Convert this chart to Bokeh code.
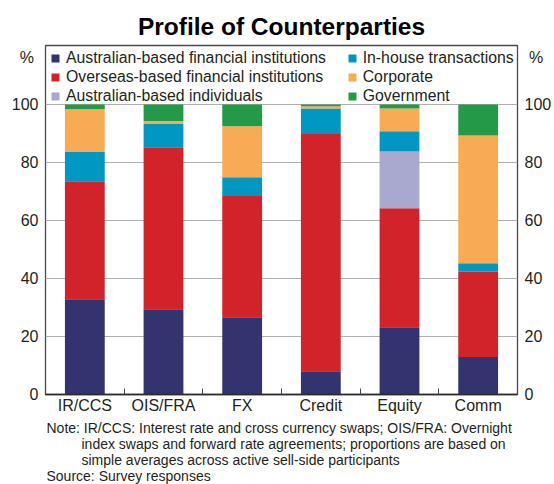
from bokeh.plotting import figure
from bokeh.models import (ColumnDataSource, FixedTicker, LinearAxis, Legend, LegendItem,
                          Title, Range1d)
from bokeh.embed import file_html
from bokeh.resources import INLINE

categories = ["IR/CCS", "OIS/FRA", "FX", "Credit", "Equity", "Comm"]
aus_fi = [32.8, 29.4, 26.6, 8.0, 23.2, 12.9]
overseas_fi = [40.7, 55.8, 41.8, 81.8, 41.0, 29.4]
aus_indiv = [0.0, 0.0, 0.0, 0.0, 19.6, 0.0]
in_house = [10.3, 8.0, 6.5, 8.8, 6.9, 2.9]
corporate = [14.5, 1.1, 17.6, 0.8, 7.9, 44.1]
government = [1.7, 5.7, 7.5, 0.6, 1.4, 10.7]

series_keys = ["aus_fi", "overseas_fi", "aus_indiv", "in_house", "corporate", "government"]
series_labels = ["Australian-based financial institutions", "Overseas-based financial institutions",
                 "Australian-based individuals", "In-house transactions", "Corporate", "Government"]
colors = ["#32336f", "#d2232a", "#a9a8cf", "#0098c3", "#f8aa55", "#249a48"]
y_ticks = [0, 20, 40, 60, 80, 100]
unit_label = "%"
unit_pos = 116
title_text = "Profile of Counterparties"
note_lines = [
    "Note: IR/CCS: Interest rate and cross currency swaps; OIS/FRA: Overnight",
    "index swaps and forward rate agreements; proportions are based on",
    "simple averages across active sell-side participants",
]
source_line = "Source: Survey responses"

FONT = "Liberation Sans"
TXT = "#231f20"
INDENT = "\u00a0" * 9

xs = [i + 0.5 for i in range(len(categories))]
source = ColumnDataSource(dict(x=xs, aus_fi=aus_fi, overseas_fi=overseas_fi, aus_indiv=aus_indiv,
                               in_house=in_house, corporate=corporate, government=government))

p = figure(width=554, height=484, output_backend="svg", toolbar_location=None,
           x_range=Range1d(0, len(categories)), y_range=Range1d(0, 120.3),
           min_border_left=45, min_border_right=35, min_border_top=45, min_border_bottom=89,
           x_axis_location=None, y_axis_location=None)
p.outline_line_color = "#4a4a4a"
p.outline_line_width = 1.3
p.background_fill_color = "white"
p.border_fill_color = "white"

renderers = p.vbar_stack(series_keys, x="x", width=0.506, color=colors, line_color=None, source=source)

# title
p.add_layout(Title(text=title_text, align="center", text_font=FONT, text_font_size="24.5px",
                   text_font_style="bold", text_color="#000000", standoff=11), "above")

# x axis
xaxis = LinearAxis(ticker=FixedTicker(ticks=xs, minor_ticks=[float(i) for i in range(1, len(categories))]),
                   major_label_overrides={x: c for x, c in zip(xs, categories)})
xaxis.axis_line_color = "#2a2a2a"
xaxis.axis_line_width = 1.3
xaxis.major_tick_in = 0
xaxis.major_tick_out = 0
xaxis.minor_tick_in = 6
xaxis.minor_tick_out = 0
xaxis.minor_tick_line_color = "#444444"
xaxis.major_label_standoff = 2
xaxis.major_label_text_font = FONT
xaxis.major_label_text_font_size = "16px"
xaxis.major_label_text_color = TXT
p.add_layout(xaxis, "below")

# y axes (left and right), with the unit label placed at the top
for side, unit_txt in (("left", unit_label + "\u00a0"), ("right", "\u00a0" + unit_label)):
    ax = LinearAxis(ticker=FixedTicker(ticks=y_ticks + [unit_pos], minor_ticks=[]),
                    major_label_overrides={unit_pos: unit_txt})
    ax.axis_line_color = None
    ax.major_tick_in = 0
    ax.major_tick_out = 0
    ax.minor_tick_line_color = None
    ax.major_label_standoff = 7
    ax.major_label_text_font = FONT
    ax.major_label_text_font_size = "16px"
    ax.major_label_text_color = TXT
    p.add_layout(ax, side)

p.xgrid.visible = False
p.ygrid.ticker = FixedTicker(ticks=[20, 40, 60, 80, 100])
p.ygrid.grid_line_color = "#b0b0b0"
p.ygrid.grid_line_width = 1

# legends (two columns)
def make_legend(idxs, vx):
    items = [LegendItem(label=series_labels[i], renderers=[renderers[i]]) for i in idxs]
    return Legend(items=items, location=(vx, 288.5), padding=0, margin=0, spacing=0,
                  glyph_width=10, glyph_height=10, label_height=19, label_standoff=6,
                  border_line_color=None, background_fill_alpha=0,
                  label_text_font=FONT, label_text_font_size="15.8px", label_text_color=TXT)

p.add_layout(make_legend([0, 1, 2], 5), "center")
p.add_layout(make_legend([3, 4, 5], 301.7), "center")

# notes below (one multi-line block)
note_text = "\n".join([note_lines[0]] + [INDENT + l for l in note_lines[1:]] + [source_line])
p.add_layout(Title(text=note_text, align="left", offset=1, standoff=2, text_font=FONT,
                   text_font_size="14px", text_font_style="normal", text_color=TXT,
                   vertical_align="bottom", text_line_height=1.0), "below")

open("out.html", "w").write(file_html(p, INLINE))
